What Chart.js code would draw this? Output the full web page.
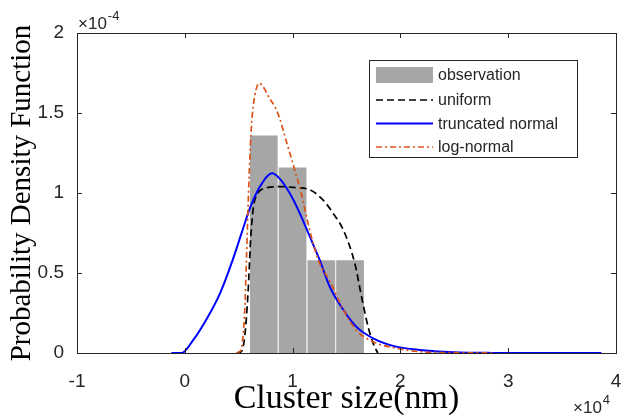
<!DOCTYPE html>
<html>
<head>
<meta charset="utf-8">
<script src="https://cdn.jsdelivr.net/npm/chart.js@4.4.1/dist/chart.umd.min.js"></script>
<style>
  html, body { margin: 0; padding: 0; background: #fff; }
  canvas { display: block; }
</style>
</head>
<body>
<canvas id="pdf" width="624" height="417"></canvas>
<script>
// x values in units of 1e4 nm, y values in units of 1e-4
const binCenters = [0.733, 1.0, 1.267, 1.533];
const observed   = [1.36, 1.16, 0.58, 0.58];

const uniformX = [0.48, 0.526, 0.557, 0.587, 0.61, 0.634, 0.68, 0.72, 0.758, 0.881, 1.005, 1.16, 1.283, 1.376, 1.47, 1.577, 1.64, 1.70, 1.747, 1.79];
const uniformY = [0, 0.01, 0.11, 0.38, 0.70, 0.90, 1.0, 1.025, 1.033, 1.04, 1.035, 1.02, 0.956, 0.873, 0.77, 0.56, 0.35, 0.165, 0.06, 0];

const truncX = [-0.124, -0.03, 0.077, 0.2, 0.325, 0.433, 0.526, 0.603, 0.68, 0.726, 0.758, 0.81, 0.88, 0.974, 1.067, 1.16, 1.252, 1.345, 1.47, 1.59, 1.747, 1.96, 2.18, 2.55, 2.8, 3.0, 3.865];
const truncY = [0, 0, 0.08, 0.21, 0.37, 0.56, 0.748, 0.904, 1.02, 1.07, 1.10, 1.123, 1.09, 0.998, 0.873, 0.727, 0.58, 0.414, 0.27, 0.165, 0.092, 0.04, 0.019, 0.003, 0.001, 0, 0];

const logX = [0.48, 0.51, 0.526, 0.557, 0.572, 0.597, 0.619, 0.65, 0.69, 0.726, 0.788, 0.835, 0.88, 0.943, 1.02, 1.08, 1.129, 1.19, 1.252, 1.345, 1.47, 1.59, 1.747, 1.96, 2.18, 2.5, 2.86];
const logY = [0, 0.01, 0.03, 0.28, 0.59, 1.11, 1.425, 1.61, 1.686, 1.665, 1.59, 1.54, 1.467, 1.32, 1.144, 0.998, 0.852, 0.685, 0.56, 0.45, 0.27, 0.144, 0.07, 0.03, 0.008, 0.002, 0];

const xTicks = [-1, 0, 1, 2, 3, 4];
const yTicks = [0, 0.5, 1, 1.5, 2];

const AXIS = '#262626';
const SANS = "'Liberation Sans', Arial, sans-serif";
const SERIF = "'Liberation Serif', 'Times New Roman', serif";

const pts = (xs, ys) => xs.map((x, i) => ({ x, y: ys[i] }));

// "x10^n" label, superscript placed after the measured base text
function expLabel(ctx, x, y, exp) {
  ctx.font = '17px ' + SANS;
  ctx.fillText('\u00d710', x, y);
  const w = ctx.measureText('\u00d710').width;
  ctx.font = '13px ' + SANS;
  ctx.fillText(exp, x + w + 1, y - 9);
}

// MATLAB-ish box with inward ticks, boxed legend and exponent labels
const decor = {
  id: 'decor',
  afterDraw(chart) {
    const { ctx, chartArea: a, scales } = chart;
    const xs = scales.x, ys = scales.y;
    ctx.save();
    ctx.strokeStyle = AXIS;
    ctx.lineWidth = 1;
    ctx.strokeRect(Math.round(a.left) + 0.5, Math.round(a.top) + 0.5,
      Math.round(a.right - a.left), Math.round(a.bottom - a.top));
    const tl = 5;
    ctx.beginPath();
    xTicks.forEach(v => {
      const px = Math.round(xs.getPixelForValue(v)) + 0.5;
      ctx.moveTo(px, a.bottom); ctx.lineTo(px, a.bottom - tl);
      ctx.moveTo(px, a.top); ctx.lineTo(px, a.top + tl);
    });
    yTicks.forEach(v => {
      const py = Math.round(ys.getPixelForValue(v)) + 0.5;
      ctx.moveTo(a.left, py); ctx.lineTo(a.left + tl, py);
      ctx.moveTo(a.right, py); ctx.lineTo(a.right - tl, py);
    });
    ctx.stroke();

    ctx.fillStyle = AXIS;
    ctx.textBaseline = 'alphabetic';
    ctx.textAlign = 'left';
    expLabel(ctx, 78, 29, '-4');
    expLabel(ctx, 573, 413, '4');

    // legend
    const lx = 369.5, ly = 60.5, lw = 208, lh = 97;
    ctx.fillStyle = '#fff';
    ctx.fillRect(lx, ly, lw, lh);
    ctx.strokeStyle = AXIS;
    ctx.setLineDash([]);
    ctx.strokeRect(lx, ly, lw, lh);
    const rows = [75, 100, 123.5, 147];
    ctx.font = '16px ' + SANS;
    ctx.textBaseline = 'middle';
    chart.data.datasets.forEach((ds, i) => {
      const y = rows[i];
      if (ds.type === 'bar') {
        ctx.fillStyle = ds.backgroundColor;
        ctx.fillRect(376, y - 8, 57, 16);
      } else {
        ctx.strokeStyle = ds.borderColor;
        ctx.lineWidth = ds.borderWidth;
        ctx.setLineDash(ds.borderDash || []);
        ctx.beginPath();
        ctx.moveTo(376, y); ctx.lineTo(433, y);
        ctx.stroke();
        ctx.setLineDash([]);
      }
      ctx.fillStyle = AXIS;
      ctx.fillText(ds.label, 438, y + 1);
    });
    ctx.restore();
  }
};

new Chart(document.getElementById('pdf'), {
  type: 'line',
  data: {
    datasets: [
      {
        type: 'bar',
        label: 'observation',
        data: pts(binCenters, observed),
        backgroundColor: '#a6a6a6',
        borderWidth: 0,
        barPercentage: 0.965,
        categoryPercentage: 1,
        order: 4,
      },
      {
        label: 'uniform',
        data: pts(uniformX, uniformY),
        borderColor: '#000000',
        borderWidth: 1.7,
        borderDash: [7, 4],
        pointRadius: 0,
        cubicInterpolationMode: 'monotone',
        fill: false,
        order: 3,
      },
      {
        label: 'truncated normal',
        data: pts(truncX, truncY),
        borderColor: '#0000ff',
        borderWidth: 2,
        pointRadius: 0,
        cubicInterpolationMode: 'monotone',
        fill: false,
        order: 2,
      },
      {
        label: 'log-normal',
        data: pts(logX, logY),
        borderColor: '#d95319',
        borderWidth: 1.7,
        borderDash: [6, 3, 2, 3],
        pointRadius: 0,
        cubicInterpolationMode: 'monotone',
        fill: false,
        order: 1,
      },
    ],
  },
  options: {
    responsive: false,
    animation: false,
    devicePixelRatio: 1,
    layout: { padding: { left: 0, top: 33, right: 8, bottom: 0 } },
    plugins: {
      legend: { display: false },
      tooltip: { enabled: false },
    },
    scales: {
      x: {
        type: 'linear',
        min: -1, max: 4,
        offset: false,
        grid: { display: false, offset: false },
        border: { display: false },
        afterBuildTicks: s => { s.ticks = xTicks.map(v => ({ value: v })); },
        afterFit: s => { s.height = 64; s.paddingLeft = 0; s.paddingRight = 0; },
        ticks: {
          color: AXIS,
          font: { family: SANS, size: 19 },
          padding: 9,
          maxRotation: 0,
          callback: v => String(v),
        },
        title: {
          display: true,
          text: 'Cluster size(nm)',
          color: '#000',
          font: { family: SERIF, size: 34 },
          padding: { top: 0, bottom: -2 },
        },
      },
      y: {
        min: 0, max: 2,
        grid: { display: false },
        border: { display: false },
        afterBuildTicks: s => { s.ticks = yTicks.map(v => ({ value: v })); },
        afterFit: s => { s.width = 77; s.paddingTop = 0; s.paddingBottom = 0; },
        ticks: {
          color: AXIS,
          font: { family: SANS, size: 19 },
          padding: 5,
          callback: v => String(v),
        },
        title: {
          display: true,
          text: 'Probability Density Function',
          color: '#000',
          font: { family: SERIF, size: 29 },
          padding: { top: 5, bottom: 0 },
        },
      },
    },
  },
  plugins: [decor],
});
</script>
</body>
</html>
